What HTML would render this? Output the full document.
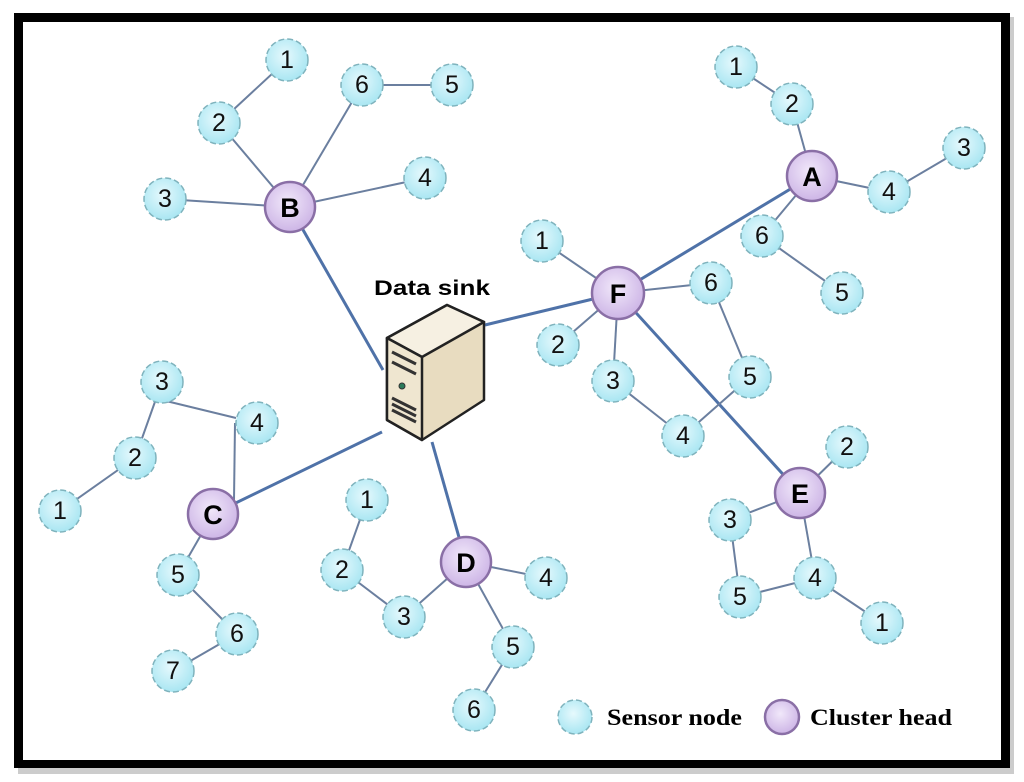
<!DOCTYPE html>
<html><head><meta charset="utf-8"><style>
html,body{margin:0;padding:0;background:#fff;}
svg{display:block;}
.s{fill:url(#gs);stroke:#7fb3bd;stroke-width:1.5;stroke-dasharray:6 3;}
.h{fill:url(#gh);stroke:#8a6fa6;stroke-width:2.5;}
.t{font-family:"Liberation Sans",sans-serif;font-size:25px;fill:#111;text-anchor:middle;dominant-baseline:central;}
.hb{font-family:"Liberation Sans",sans-serif;font-size:27px;font-weight:bold;fill:#000;text-anchor:middle;dominant-baseline:central;}
.l{stroke:#6b7f9f;stroke-width:2;}
.m{stroke:#4f72a8;stroke-width:3;}
</style></head><body>
<svg width="1024" height="782" viewBox="0 0 1024 782">
<defs>
<radialGradient id="gs" cx="0.45" cy="0.4" r="0.6"><stop offset="0" stop-color="#e6f9fd"/><stop offset="1" stop-color="#a9e6f2"/></radialGradient>
<radialGradient id="gh" cx="0.45" cy="0.4" r="0.6"><stop offset="0" stop-color="#f1e8fa"/><stop offset="1" stop-color="#cdb5e6"/></radialGradient>
</defs>
<rect x="18" y="17" width="996" height="757" fill="#999" opacity="0.5"/>
<rect x="14" y="13" width="996" height="755" fill="#000"/>
<rect x="23" y="22" width="978" height="738" fill="#fff"/>

<g class="m">
<line x1="290" y1="207" x2="383" y2="370"/>
<line x1="213" y1="514" x2="382" y2="432"/>
<line x1="466" y1="562" x2="432" y2="442"/>
<line x1="618" y1="293" x2="485" y2="325"/>
<line x1="618" y1="293" x2="812" y2="176"/>
<line x1="618" y1="293" x2="800" y2="493"/>
</g>
<g class="l">
<line x1="287" y1="60" x2="219" y2="123"/><line x1="219" y1="123" x2="290" y2="207"/>
<line x1="290" y1="207" x2="165" y2="199"/><line x1="290" y1="207" x2="362" y2="85"/>
<line x1="362" y1="85" x2="452" y2="85"/><line x1="290" y1="207" x2="425" y2="178"/>
<line x1="736" y1="67" x2="792" y2="104"/><line x1="792" y1="104" x2="812" y2="176"/>
<line x1="812" y1="176" x2="889" y2="192"/><line x1="889" y1="192" x2="964" y2="148"/>
<line x1="812" y1="176" x2="762" y2="236"/><line x1="762" y1="236" x2="842" y2="293"/>
<line x1="618" y1="293" x2="542" y2="241"/><line x1="618" y1="293" x2="711" y2="283"/>
<line x1="711" y1="283" x2="750" y2="377"/><line x1="750" y1="377" x2="683" y2="436"/>
<line x1="618" y1="293" x2="558" y2="345"/><line x1="618" y1="293" x2="613" y2="381"/>
<line x1="613" y1="381" x2="683" y2="436"/>
<line x1="800" y1="493" x2="847" y2="447"/><line x1="800" y1="493" x2="730" y2="520"/>
<line x1="730" y1="520" x2="740" y2="597"/><line x1="740" y1="597" x2="815" y2="578"/>
<line x1="800" y1="493" x2="815" y2="578"/><line x1="815" y1="578" x2="882" y2="623"/>
<line x1="162" y1="400" x2="236" y2="418"/><line x1="235" y1="423" x2="234" y2="500"/>
<line x1="162" y1="382" x2="135" y2="458"/><line x1="135" y1="458" x2="60" y2="511"/>
<line x1="213" y1="514" x2="178" y2="575"/><line x1="178" y1="575" x2="237" y2="634"/>
<line x1="237" y1="634" x2="173" y2="671"/>
<line x1="367" y1="500" x2="342" y2="570"/><line x1="342" y1="570" x2="404" y2="617"/>
<line x1="404" y1="617" x2="466" y2="562"/><line x1="466" y1="562" x2="546" y2="578"/>
<line x1="466" y1="562" x2="513" y2="647"/><line x1="513" y1="647" x2="474" y2="710"/>
</g>

<g stroke="#222" stroke-width="2.5" stroke-linejoin="round">
<polygon points="387,338 447,305 484,322 484,400 422,440 387,420" fill="#e8dcc0"/>
<polygon points="387,338 447,305 484,322 422,357" fill="#f6f0e2"/>
<polygon points="387,338 422,357 422,440 387,420" fill="#efe6d0"/>
</g>
<g stroke="#333" stroke-width="3">
<line x1="392" y1="352" x2="416" y2="364"/><line x1="392" y1="362" x2="416" y2="374"/>
<line x1="392" y1="398" x2="416" y2="410"/><line x1="392" y1="404" x2="416" y2="416"/><line x1="392" y1="410" x2="416" y2="422"/>
</g>
<circle cx="402" cy="386" r="3" fill="#2a7a5a" stroke="#333"/>
<text x="432" y="295" font-family="Liberation Sans,sans-serif" font-weight="bold" font-size="21" text-anchor="middle" textLength="116" lengthAdjust="spacingAndGlyphs">Data sink</text>

<g>
<circle class="s" cx="287" cy="60" r="21"/><text class="t" x="287" y="60">1</text>
<circle class="s" cx="219" cy="123" r="21"/><text class="t" x="219" y="123">2</text>
<circle class="s" cx="165" cy="199" r="21"/><text class="t" x="165" y="199">3</text>
<circle class="s" cx="362" cy="85" r="21"/><text class="t" x="362" y="85">6</text>
<circle class="s" cx="452" cy="85" r="21"/><text class="t" x="452" y="85">5</text>
<circle class="s" cx="425" cy="178" r="21"/><text class="t" x="425" y="178">4</text>

<circle class="s" cx="736" cy="67" r="21"/><text class="t" x="736" y="67">1</text>
<circle class="s" cx="792" cy="104" r="21"/><text class="t" x="792" y="104">2</text>
<circle class="s" cx="964" cy="148" r="21"/><text class="t" x="964" y="148">3</text>
<circle class="s" cx="889" cy="192" r="21"/><text class="t" x="889" y="192">4</text>
<circle class="s" cx="762" cy="236" r="21"/><text class="t" x="762" y="236">6</text>
<circle class="s" cx="842" cy="293" r="21"/><text class="t" x="842" y="293">5</text>

<circle class="s" cx="542" cy="241" r="21"/><text class="t" x="542" y="241">1</text>
<circle class="s" cx="711" cy="283" r="21"/><text class="t" x="711" y="283">6</text>
<circle class="s" cx="750" cy="377" r="21"/><text class="t" x="750" y="377">5</text>
<circle class="s" cx="558" cy="345" r="21"/><text class="t" x="558" y="345">2</text>
<circle class="s" cx="613" cy="381" r="21"/><text class="t" x="613" y="381">3</text>
<circle class="s" cx="683" cy="436" r="21"/><text class="t" x="683" y="436">4</text>

<circle class="s" cx="847" cy="447" r="21"/><text class="t" x="847" y="447">2</text>
<circle class="s" cx="730" cy="520" r="21"/><text class="t" x="730" y="520">3</text>
<circle class="s" cx="740" cy="597" r="21"/><text class="t" x="740" y="597">5</text>
<circle class="s" cx="815" cy="578" r="21"/><text class="t" x="815" y="578">4</text>
<circle class="s" cx="882" cy="623" r="21"/><text class="t" x="882" y="623">1</text>

<circle class="s" cx="162" cy="382" r="21"/><text class="t" x="162" y="382">3</text>
<circle class="s" cx="257" cy="423" r="21"/><text class="t" x="257" y="423">4</text>
<circle class="s" cx="135" cy="458" r="21"/><text class="t" x="135" y="458">2</text>
<circle class="s" cx="60" cy="511" r="21"/><text class="t" x="60" y="511">1</text>
<circle class="s" cx="178" cy="575" r="21"/><text class="t" x="178" y="575">5</text>
<circle class="s" cx="237" cy="634" r="21"/><text class="t" x="237" y="634">6</text>
<circle class="s" cx="173" cy="671" r="21"/><text class="t" x="173" y="671">7</text>

<circle class="s" cx="367" cy="500" r="21"/><text class="t" x="367" y="500">1</text>
<circle class="s" cx="342" cy="570" r="21"/><text class="t" x="342" y="570">2</text>
<circle class="s" cx="404" cy="617" r="21"/><text class="t" x="404" y="617">3</text>
<circle class="s" cx="546" cy="578" r="21"/><text class="t" x="546" y="578">4</text>
<circle class="s" cx="513" cy="647" r="21"/><text class="t" x="513" y="647">5</text>
<circle class="s" cx="474" cy="710" r="21"/><text class="t" x="474" y="710">6</text>
</g>
<g>
<circle class="h" cx="290" cy="207" r="25"/><text class="hb" x="290" y="208">B</text>
<circle class="h" cx="812" cy="176" r="25"/><text class="hb" x="812" y="177">A</text>
<circle class="h" cx="618" cy="293" r="26"/><text class="hb" x="618" y="294">F</text>
<circle class="h" cx="800" cy="493" r="25"/><text class="hb" x="800" y="494">E</text>
<circle class="h" cx="213" cy="514" r="25"/><text class="hb" x="213" y="515">C</text>
<circle class="h" cx="466" cy="562" r="25"/><text class="hb" x="466" y="563">D</text>
</g>

<circle class="s" cx="575" cy="717" r="17"/>
<text x="607" y="725" font-family="Liberation Serif,serif" font-weight="bold" font-size="23" textLength="135" lengthAdjust="spacingAndGlyphs">Sensor node</text>
<circle class="h" cx="782" cy="717" r="17" stroke-width="2"/>
<text x="810" y="725" font-family="Liberation Serif,serif" font-weight="bold" font-size="23" textLength="142" lengthAdjust="spacingAndGlyphs">Cluster head</text>
</svg>
</body></html>
